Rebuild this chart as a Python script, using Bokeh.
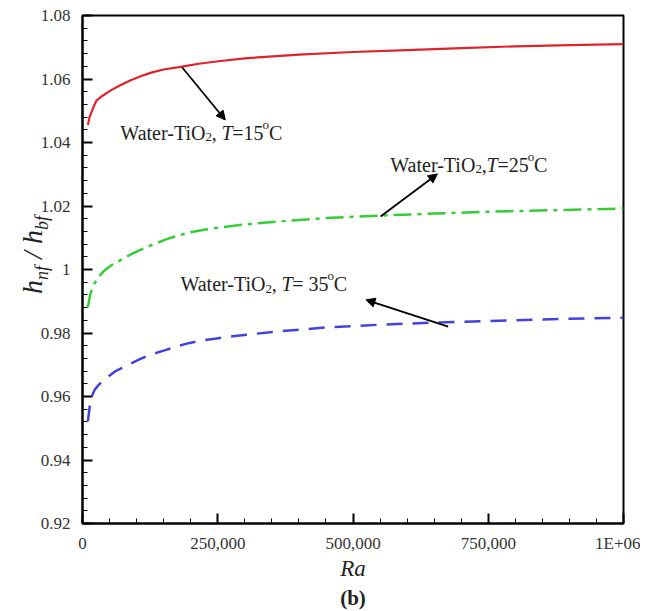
from bokeh.plotting import figure
from bokeh.models import FixedTicker, Label, Arrow, NormalHead, Title, Div
from bokeh.layouts import row
from bokeh.embed import file_html
from bokeh.resources import INLINE

# ---- data ----
ra_15 = [10000, 13000, 17000, 21000, 26000, 35000, 53000, 70000, 90000, 110000, 127000, 150000,
         181000, 215000, 251000, 300000, 400000, 500000, 600000, 700000, 800000, 900000, 1000000]
h_15 = [1.0455, 1.0480, 1.0497, 1.0515, 1.0532, 1.0545, 1.0565, 1.0580, 1.0597, 1.0610, 1.0620, 1.0630,
        1.0638, 1.0648, 1.0656, 1.0665, 1.0677, 1.0685, 1.0691, 1.0697, 1.0703, 1.0707, 1.0710]

ra_25 = [10000, 14000, 20000, 30000, 42000, 55000, 72000, 92000, 116000, 135000, 153000, 175000,
         196000, 225000, 251000, 300000, 366000, 450000, 551000, 650000, 750000, 875000, 1000000]
h_25 = [0.9881, 0.9920, 0.9950, 0.9978, 0.9999, 1.0015, 1.0031, 1.0050, 1.0069, 1.0082, 1.0094, 1.0106,
        1.0116, 1.0125, 1.0132, 1.0142, 1.0152, 1.0162, 1.0170, 1.0176, 1.0182, 1.0187, 1.0192]

ra_35 = [10000, 13000, 17000, 22000, 30000, 44000, 60000, 85000, 109000, 130000, 153000, 175000,
         196000, 220000, 248000, 290000, 360000, 455000, 560000, 673000, 800000, 900000, 1000000]
h_35 = [0.9522, 0.9565, 0.9600, 0.9620, 0.9637, 0.9658, 0.9679, 0.9700, 0.9720, 0.9734, 0.9746, 0.9758,
        0.9768, 0.9776, 0.9783, 0.9792, 0.9805, 0.9818, 0.9827, 0.9834, 0.9840, 0.9845, 0.9848]

x_ticks = [0, 250000, 500000, 750000, 1000000]
x_tick_labels = ["0", "250,000", "500,000", "750,000", "1E+06"]
x_minor = [i * 50000 for i in range(21)]

y_ticks = [0.92, 0.94, 0.96, 0.98, 1.0, 1.02, 1.04, 1.06, 1.08]
y_tick_labels = ["0.92", "0.94", "0.96", "0.98", "1", "1.02", "1.04", "1.06", "1.08"]
y_minor = [round(0.92 + 0.004 * i, 4) for i in range(41)]

x_title = "Ra"
y_title_parts = ["h", "nf", " / ", "h", "bf"]   # h_nf / h_bf
panel_tag = "(b)"

# annotation anchors (data units)
note1_xy = (70000, 1.0431)
arrow1 = (184000, 1.0637, 264000, 1.0471)
note2_xy = (569000, 1.0330)
arrow2 = (551000, 1.0167, 656000, 1.0301)
note3_xy = (181000, 0.9954)
arrow3 = (676000, 0.9820, 524000, 0.99046)

FONT = "Liberation Serif"
TXT = "#222222"

W_REG = {'W': 944, 'a': 444, 't': 278, 'e': 444, 'r': 333, '-': 333, 'T': 611, 'i': 278,
         'O': 722, ',': 250, ' ': 250, '=': 564, 'C': 667, 'o': 500}
W_IT = {'T': 556}


def tw(s, size, italic=False):
    table = W_IT if italic else W_REG
    return 0.97 * sum(table.get(c, 500) for c in s) * size / 1000.0


YDIV_W = 36

p = figure(frame_width=541, frame_height=508,
           min_border_left=82 - YDIV_W, min_border_right=17, min_border_top=15, min_border_bottom=60,
           x_range=(0, 1000000), y_range=(0.92, 1.08),
           output_backend="svg", toolbar_location=None)
p.background_fill_color = "white"
p.border_fill_alpha = 0.0
p.xgrid.visible = False
p.ygrid.visible = False
p.outline_line_color = "black"
p.outline_line_width = 2
p.outline_line_alpha = 1.0

p.xaxis.ticker = FixedTicker(ticks=x_ticks, minor_ticks=x_minor)
p.yaxis.ticker = FixedTicker(ticks=y_ticks, minor_ticks=y_minor)
p.xaxis.major_label_overrides = dict(zip(x_ticks, x_tick_labels))
p.yaxis.major_label_overrides = dict(zip(y_ticks, y_tick_labels))

for ax in (p.xaxis, p.yaxis):
    ax.axis_line_width = 2
    ax.axis_line_color = "black"
    ax.major_tick_in = 10
    ax.major_tick_out = 0
    ax.minor_tick_in = 5
    ax.minor_tick_out = 0
    ax.major_tick_line_width = 2
    ax.minor_tick_line_width = 1
    ax.major_label_text_font = FONT
    ax.major_label_text_font_size = "17px"
    ax.major_label_text_color = "#333333"
p.xaxis.major_label_standoff = 10
p.yaxis.major_label_standoff = 12

p.xaxis.axis_label = x_title
p.xaxis.axis_label_text_font = FONT
p.xaxis.axis_label_text_font_style = "italic"
p.xaxis.axis_label_text_font_size = "23px"
p.xaxis.axis_label_text_color = TXT
p.xaxis.axis_label_standoff = 0

p.add_layout(Title(text=panel_tag, align="center", text_font=FONT, text_font_size="21px",
                   text_font_style="bold", text_color=TXT, standoff=0), "below")

# curves
p.line(ra_15, h_15, line_color="#e0222b", line_width=2.2)
p.line(ra_25, h_25, line_color="#36cc36", line_width=2.5, line_dash="18 6 4 6")
p.line(ra_35, h_35, line_color="#4242e0", line_width=2.5, line_dash="16 10")

for (x0, y0, x1, y1) in (arrow1, arrow2, arrow3):
    p.add_layout(Arrow(x_start=x0, y_start=y0, x_end=x1, y_end=y1,
                       line_color="black", line_width=1.8,
                       end=NormalHead(size=9, fill_color="black", line_color="black")))


def rich(x, y, pieces, size):
    adv = 0.0
    for text, style, kind in pieces:
        fs = size * 0.65 if kind != 0 else size
        dy = 0.0
        if kind < 0:
            dy = -0.22 * size
        elif kind > 0:
            dy = 0.42 * size
        p.add_layout(Label(x=x, y=y, x_offset=adv, y_offset=dy, text=text,
                           text_font=FONT, text_font_size=f"{fs:.1f}px",
                           text_font_style=style, text_color=TXT,
                           text_align="left", text_baseline="alphabetic"))
        adv += tw(text, fs, style == "italic")


SZ = 20
rich(note1_xy[0], note1_xy[1], [("Water-TiO", "normal", 0), ("2", "normal", -1), (", ", "normal", 0),
                                ("T", "italic", 0), ("=15", "normal", 0), ("o", "normal", 1),
                                ("C", "normal", 0)], SZ)
rich(note2_xy[0], note2_xy[1], [("Water-TiO", "normal", 0), ("2", "normal", -1), (",", "normal", 0),
                                ("T", "italic", 0), ("=25", "normal", 0), ("o", "normal", 1),
                                ("C", "normal", 0)], SZ)
rich(note3_xy[0], note3_xy[1], [("Water-TiO", "normal", 0), ("2", "normal", -1), (", ", "normal", 0),
                                ("T", "italic", 0), ("= 35", "normal", 0), ("o", "normal", 1),
                                ("C", "normal", 0)], SZ)

# rotated y-axis title with subscripts (HTML text)
a, s1, sep, b, s2 = y_title_parts
ylabel_html = (
    '<div style="position:relative;width:%dpx;height:523px;">'
    '<div style="position:absolute;left:35px;top:255px;'
    'transform:translate(-50%%,-50%%) rotate(-90deg);white-space:pre;'
    "font-family:'Liberation Serif',serif;font-style:italic;font-size:28px;color:#222;line-height:1;\">"
    '%s<sub style="font-size:18px;">%s</sub>%s%s<sub style="font-size:18px;">%s</sub>'
    '</div></div>' % (YDIV_W, a, s1, sep, b, s2)
)
ydiv = Div(text=ylabel_html, width=YDIV_W, height=523, margin=(0, 0, 0, 0))

layout = row(ydiv, p)
open("out.html", "w").write(file_html(layout, INLINE))
